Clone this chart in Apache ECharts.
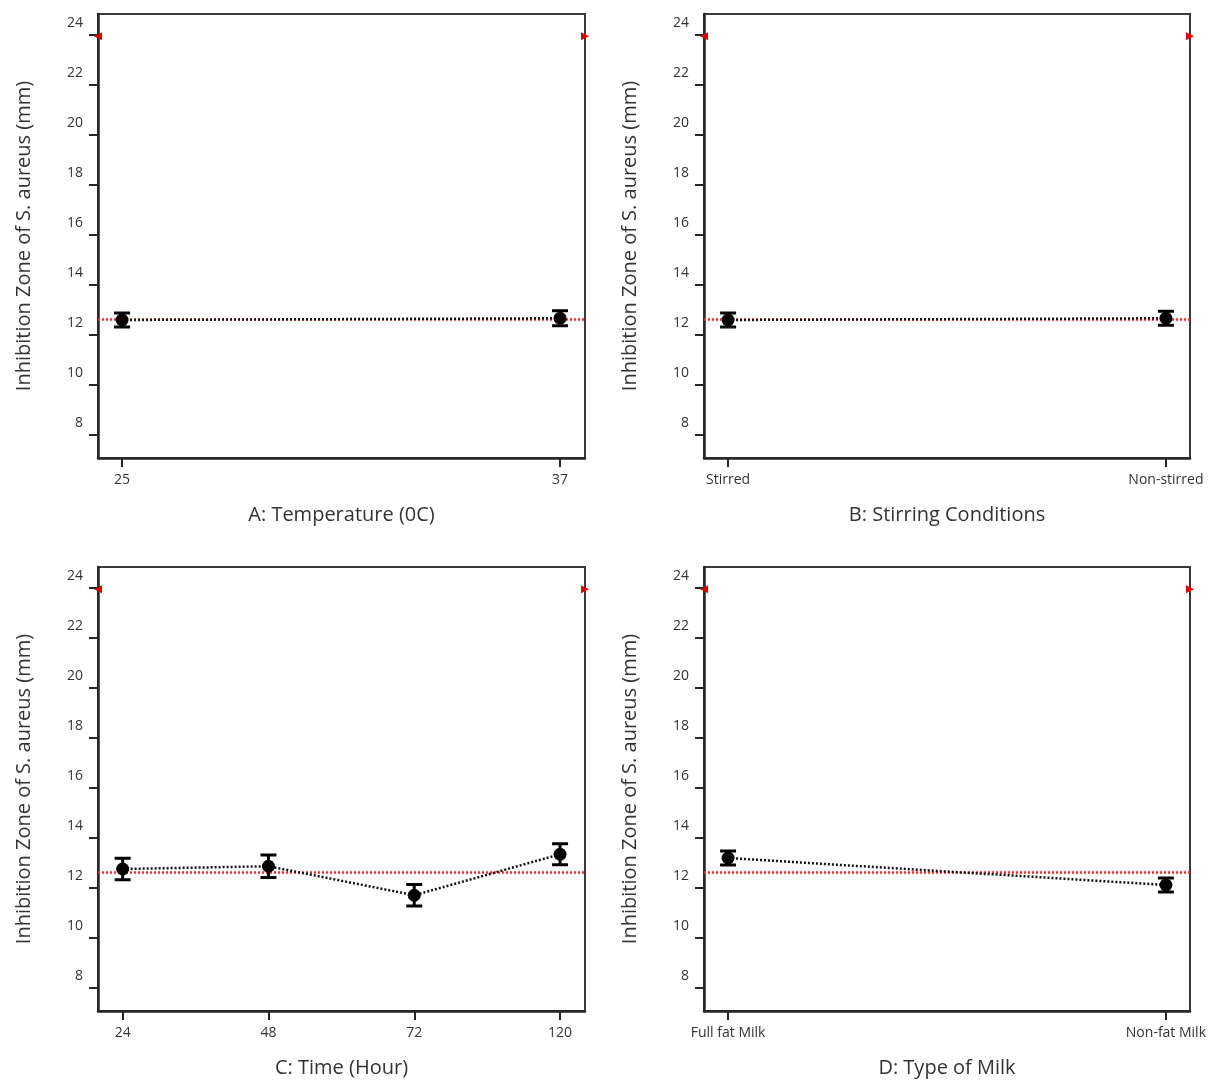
<!DOCTYPE html>
<html>
<head>
<meta charset="utf-8">
<script src="https://cdn.jsdelivr.net/npm/echarts@6/dist/echarts.min.js"></script>
<style>html,body{margin:0;padding:0;background:#fff}#c{width:1232px;height:1089px}</style>
</head>
<body>
<div id="c"></div>
<script>
// ---- data ----
var tempCats = ['25', '37'];
var tempMean = [12.60, 12.67];
var tempErr = [0.28, 0.30];

var stirCats = ['Stirred', 'Non-stirred'];
var stirMean = [12.60, 12.67];
var stirErr = [0.28, 0.28];

var timeCats = ['24', '48', '72', '120'];
var timeMean = [12.76, 12.87, 11.71, 13.35];
var timeErr = [0.43, 0.45, 0.43, 0.42];

var milkCats = ['Full fat Milk', 'Non-fat Milk'];
var milkMean = [13.20, 12.12];
var milkErr = [0.28, 0.28];

var overallMean = 12.64;
var topMarkerValue = 23.95;
var yTicks = [8, 10, 12, 14, 16, 18, 20, 22, 24];

var xTitles = ['A: Temperature (0C)', 'B: Stirring Conditions', 'C: Time (Hour)', 'D: Type of Milk'];
var yTitle = 'Inhibition Zone of S. aureus (mm)';

// ---- layout ----
var panels = [
  {cats: tempCats, mean: tempMean, err: tempErr, grid: {left: 98, top: 14, width: 487, height: 444}, xmin: -0.055, xmax: 1.057},
  {cats: stirCats, mean: stirMean, err: stirErr, grid: {left: 704, top: 14, width: 486, height: 444}, xmin: -0.055, xmax: 1.055},
  {cats: timeCats, mean: timeMean, err: timeErr, grid: {left: 98, top: 567, width: 487, height: 444}, xmin: -0.169, xmax: 3.171},
  {cats: milkCats, mean: milkMean, err: milkErr, grid: {left: 704, top: 567, width: 486, height: 444}, xmin: -0.055, xmax: 1.055}
];

var FONT = '"Open Sans", "Noto Sans", sans-serif';
var AX = '#262626';
var grids = [], xAxes = [], yAxes = [], series = [];

panels.forEach(function (p, i) {
  var idx = p.cats.map(function (c, k) { return k; });
  grids.push(Object.assign({show: true, borderColor: '#3a3a3a', borderWidth: 2, backgroundColor: 'transparent'}, p.grid));
  xAxes.push({
    type: 'value', gridIndex: i, min: p.xmin, max: p.xmax,
    name: xTitles[i], nameLocation: 'middle', nameGap: 47,
    nameTextStyle: {fontFamily: FONT, fontSize: 20, color: '#333'},
    axisLine: {show: true, onZero: false, lineStyle: {color: AX, width: 2.5}},
    axisTick: {show: true, customValues: idx, length: 9, lineStyle: {color: AX, width: 2}},
    axisLabel: {customValues: idx, margin: 15, fontFamily: FONT, fontSize: 14, color: '#333',
      formatter: function (v) { return p.cats[Math.round(v)]; }},
    splitLine: {show: false}
  });
  yAxes.push({
    type: 'value', gridIndex: i, min: 7.08, max: 24.84,
    name: yTitle, nameLocation: 'middle', nameGap: 64,
    nameTextStyle: {fontFamily: FONT, fontSize: 20, color: '#333'},
    axisLine: {show: true, onZero: false, lineStyle: {color: AX, width: 2.5}},
    axisTick: {show: true, customValues: yTicks, length: 9, lineStyle: {color: AX, width: 2}},
    axisLabel: {customValues: yTicks, margin: 15, fontFamily: FONT, fontSize: 14, color: '#333',
      verticalAlign: 'bottom', lineHeight: 16, padding: [0, 0, 4, 0]},
    splitLine: {show: false}
  });

  var pts = p.mean.map(function (m, k) { return [k, m]; });
  // connecting dotted line + mean reference
  series.push({
    type: 'line', xAxisIndex: i, yAxisIndex: i, data: pts, symbol: 'none', silent: true,
    lineStyle: {color: '#111', width: 2.5, type: [2, 2], opacity: 1}, z: 3,
    markLine: {
      silent: true, symbol: 'none', label: {show: false},
      lineStyle: {color: '#ff2a2a', width: 2.5, type: [2, 2], opacity: 1},
      data: [{yAxis: overallMean}], z: 2
    }
  });
  // error bars
  series.push({
    type: 'custom', xAxisIndex: i, yAxisIndex: i, z: 4,
    data: p.mean.map(function (m, k) { return [k, m - p.err[k], m + p.err[k]]; }),
    renderItem: function (params, api) {
      var lo = api.coord([api.value(0), api.value(1)]);
      var hi = api.coord([api.value(0), api.value(2)]);
      var w = 8;
      var st = {stroke: '#000', lineWidth: 3};
      return {type: 'group', children: [
        {type: 'line', shape: {x1: lo[0], y1: lo[1], x2: hi[0], y2: hi[1]}, style: st},
        {type: 'line', shape: {x1: lo[0] - w, y1: lo[1], x2: lo[0] + w, y2: lo[1]}, style: st},
        {type: 'line', shape: {x1: hi[0] - w, y1: hi[1], x2: hi[0] + w, y2: hi[1]}, style: st}
      ]};
    }
  });
  // points
  series.push({
    type: 'scatter', xAxisIndex: i, yAxisIndex: i, data: pts, symbol: 'circle', symbolSize: 13,
    itemStyle: {color: '#000', opacity: 1}, z: 5
  });
  // small red range markers at the top corners
  series.push({
    type: 'scatter', xAxisIndex: i, yAxisIndex: i, z: 6, silent: true,
    data: [{value: [p.xmin, topMarkerValue], symbolRotate: 90}, {value: [p.xmax, topMarkerValue], symbolRotate: -90}],
    symbol: 'triangle', symbolSize: 8, itemStyle: {color: '#e00000', opacity: 1}
  });
});

var chart = echarts.init(document.getElementById('c'), null, {renderer: 'canvas'});
chart.setOption({
  animation: false, backgroundColor: '#fff',
  grid: grids, xAxis: xAxes, yAxis: yAxes, series: series
});
</script>
</body>
</html>
